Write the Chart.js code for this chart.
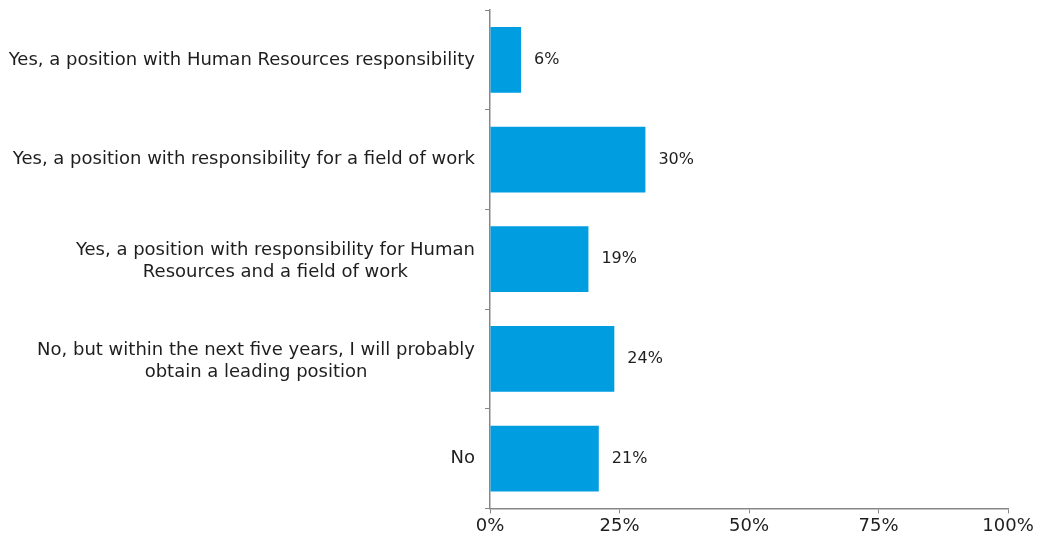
<!DOCTYPE html>
<html>
<head>
<meta charset="utf-8">
<script src="https://cdn.jsdelivr.net/npm/chart.js@4"></script>
<style>
  html, body { margin: 0; padding: 0; background: #fff; }
  #wrap { width: 1040px; height: 542px; }
</style>
</head>
<body>
<div id="wrap"><canvas id="chart" width="1040" height="542"></canvas></div>
<script>
// Answers and shares (in %)
const categories = [
  'Yes, a position with Human Resources responsibility',
  'Yes, a position with responsibility for a field of work',
  ['Yes, a position with responsibility for Human', 'Resources and a field of work'],
  ['No, but within the next five years, I will probably', 'obtain a leading position'],
  'No'
];
const shares = [6, 30, 19, 24, 21];
const xTicks = [0, 25, 50, 75, 100];

const axisGrey = '#878787';
const textColor = '#1e1e1e';
const fontFamily = '"DejaVu Sans", Verdana, sans-serif';
const labelSize = 18;
const lineGap = 22;

// writes "xx%" to the right of each bar
const valueLabels = {
  id: 'valueLabels',
  afterDatasetsDraw(chart) {
    const ctx = chart.ctx;
    const meta = chart.getDatasetMeta(0);
    ctx.save();
    ctx.font = '16px ' + fontFamily;
    ctx.fillStyle = textColor;
    ctx.textAlign = 'left';
    ctx.textBaseline = 'middle';
    meta.data.forEach((bar, i) => {
      ctx.fillText(shares[i] + '%', bar.x + 13, bar.y);
    });
    ctx.restore();
  }
};

// category labels: block right-aligned to the axis, lines centred inside the block
const categoryLabels = {
  id: 'categoryLabels',
  afterDraw(chart) {
    const ctx = chart.ctx;
    const y = chart.scales.y;
    const right = y.right - 15;
    ctx.save();
    ctx.font = labelSize + 'px ' + fontFamily;
    ctx.fillStyle = textColor;
    ctx.textAlign = 'center';
    ctx.textBaseline = 'middle';
    categories.forEach((label, i) => {
      const lines = Array.isArray(label) ? label : [label];
      const w = Math.max(...lines.map(l => ctx.measureText(l).width));
      const cx = right - w / 2;
      const cy = y.getPixelForTick(i) - (lines.length - 1) * lineGap / 2 + (lines.length > 1 ? 2 : 0);
      lines.forEach((l, j) => ctx.fillText(l, cx, cy + j * lineGap));
    });
    ctx.restore();
  }
};

new Chart(document.getElementById('chart'), {
  type: 'bar',
  data: {
    labels: categories,
    datasets: [{
      data: shares,
      backgroundColor: '#009ee0',
      barPercentage: 0.66,
      categoryPercentage: 1
    }]
  },
  options: {
    indexAxis: 'y',
    responsive: false,
    animation: false,
    layout: { padding: { top: 10, right: 32, bottom: 3, left: 0 } },
    plugins: { legend: { display: false }, tooltip: { enabled: false } },
    scales: {
      x: {
        min: 0,
        max: 100,
        afterBuildTicks(scale) {
          scale.ticks = xTicks.map(v => ({ value: v }));
        },
        ticks: {
          color: textColor,
          font: { family: fontFamily, size: 18 },
          padding: 2,
          callback: v => v + '%'
        },
        grid: {
          drawOnChartArea: false,
          drawTicks: true,
          tickLength: 5,
          color: axisGrey
        },
        border: { color: axisGrey, width: 1.5 }
      },
      y: {
        afterFit(scale) { scale.width = 490; },
        ticks: { display: false },
        grid: {
          drawOnChartArea: false,
          drawTicks: true,
          tickLength: 5,
          offset: true,
          color: axisGrey
        },
        border: { color: axisGrey, width: 1.5 }
      }
    }
  },
  plugins: [valueLabels, categoryLabels]
});
</script>
</body>
</html>
